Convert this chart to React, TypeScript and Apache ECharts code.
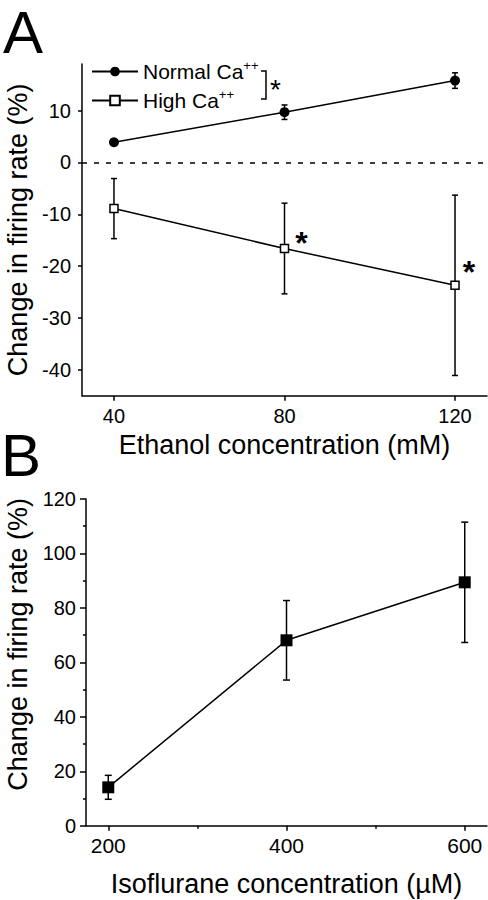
import React, { useEffect, useRef } from "react";
import * as echarts from "echarts";

// ---------- Data ----------
const ethanolConc = [40, 80, 120];
const normalMean = [3.9, 9.7, 15.8];
const normalErr = [0.5, 1.4, 1.5];
const highMean = [-8.9, -16.6, -23.7];
const highErr = [5.8, 8.75, 17.4];
const highSig = [false, true, true];

const isoConc = [200, 400, 600];
const isoMean = [14.1, 68.1, 89.4];
const isoErr = [4.4, 14.6, 22.1];

const topYTicks = [-40, -30, -20, -10, 0, 10];
const topXTicks = [40, 80, 120];
const botXTicks = [200, 400, 600];
const botXMinor = [300, 500];

const FONT = "'Liberation Sans', Arial, Helvetica, sans-serif";

function errRender(half: number) {
  return (params: any, api: any) => {
    const x = api.value(0);
    const y = api.value(1);
    const e = api.value(2);
    const t = api.coord([x, y + e]);
    const b = api.coord([x, y - e]);
    const st = { stroke: "#000", lineWidth: 1.5 };
    return {
      type: "group",
      children: [
        { type: "line", shape: { x1: t[0], y1: t[1], x2: b[0], y2: b[1] }, style: st },
        { type: "line", shape: { x1: t[0] - half, y1: t[1], x2: t[0] + half, y2: t[1] }, style: st },
        { type: "line", shape: { x1: b[0] - half, y1: b[1], x2: b[0] + half, y2: b[1] }, style: st },
      ],
    };
  };
}

export default function App() {
  const ref = useRef<HTMLDivElement>(null);
  useEffect(() => {
    if (!ref.current) return;
    const chart = echarts.init(ref.current, null, { renderer: "svg" });
    const axisLine = { show: true, onZero: false, lineStyle: { color: "#000", width: 1.5 } };
    const labelStyle = { color: "#000", fontSize: 20, fontFamily: FONT };
    const nameStyle = { color: "#000", fontSize: 27, fontFamily: FONT };

    const sigLabels = [
      { distance: 6, offset: [0, -6] },
      { distance: 6, offset: [0, -6] },
      { distance: 3, offset: [0, -13] },
    ];

    const option: any = {
      animation: false,
      backgroundColor: "#fff",
      textStyle: { fontFamily: FONT },
      grid: [
        { left: 82, top: 64, width: 405, height: 331.7, outerBoundsMode: "none" },
        { left: 86, top: 499, width: 401, height: 326.7, outerBoundsMode: "none" },
      ],
      legend: {
        orient: "vertical",
        left: 91,
        top: 59,
        padding: 0,
        itemWidth: 46,
        itemHeight: 12,
        itemGap: 6,
        data: ["Normal Ca++", "High Ca++"],
        formatter: (n: string) => `{b|${n.replace("++", "")}}{s|++}`,
        textStyle: {
          color: "#000",
          fontFamily: FONT,
          rich: {
            b: { fontSize: 21, fontFamily: FONT, color: "#000", lineHeight: 22 },
            s: { fontSize: 13, fontFamily: FONT, color: "#000", padding: [0, 0, 12, 0] },
          },
        },
      },
      xAxis: [
        {
          type: "value",
          gridIndex: 0,
          min: 32.5,
          max: 127.5,
          name: "Ethanol concentration (mM)",
          nameLocation: "middle",
          nameGap: 36,
          nameTextStyle: nameStyle,
          axisLine,
          axisTick: { show: true, length: 5, customValues: topXTicks, lineStyle: { color: "#000", width: 1.5 } },
          axisLabel: { ...labelStyle, margin: 10, customValues: topXTicks },
          splitLine: { show: false },
        },
        {
          type: "value",
          gridIndex: 1,
          min: 175,
          max: 625,
          position: "bottom",
          name: "Isoflurane concentration (µM)",
          nameLocation: "middle",
          nameGap: 45,
          nameTextStyle: nameStyle,
          axisLine,
          axisTick: { show: true, length: 5, customValues: botXTicks, lineStyle: { color: "#000", width: 1.5 } },
          axisLabel: { ...labelStyle, fontSize: 21, margin: 9, customValues: botXTicks },
          splitLine: { show: false },
        },
        {
          type: "value",
          gridIndex: 1,
          min: 175,
          max: 625,
          position: "bottom",
          axisLine: { show: false, onZero: false },
          axisTick: { show: true, length: 3, customValues: botXMinor, lineStyle: { color: "#000", width: 1.5 } },
          axisLabel: { show: false, customValues: botXMinor },
          splitLine: { show: false },
        },
      ],
      yAxis: [
        {
          type: "value",
          gridIndex: 0,
          min: -45,
          max: 19,
          name: "Change in firing rate (%)",
          nameLocation: "middle",
          nameGap: 45,
          nameTextStyle: nameStyle,
          axisLine,
          axisTick: { show: true, length: 4, customValues: topYTicks, lineStyle: { color: "#000", width: 1.5 } },
          axisLabel: { ...labelStyle, margin: 11, customValues: topYTicks },
          splitLine: { show: false },
        },
        {
          type: "value",
          gridIndex: 1,
          min: 0,
          max: 120,
          interval: 20,
          name: "Change in firing rate (%)",
          nameLocation: "middle",
          nameGap: 48,
          nameTextStyle: { ...nameStyle, padding: [0, 0, 0, 36] },
          axisLine,
          axisTick: { show: true, length: 6, lineStyle: { color: "#000", width: 1.5 } },
          minorTick: { show: true, splitNumber: 2, length: 3, lineStyle: { color: "#000", width: 1.5 } },
          axisLabel: { ...labelStyle, margin: 10 },
          splitLine: { show: false },
        },
      ],
      series: [
        {
          type: "custom",
          xAxisIndex: 0,
          yAxisIndex: 0,
          z: 1,
          renderItem: errRender(3),
          data: ethanolConc.map((x, i) => [x, normalMean[i], normalErr[i]]),
          encode: { x: 0, y: 1 },
        },
        {
          type: "custom",
          xAxisIndex: 0,
          yAxisIndex: 0,
          z: 1,
          renderItem: errRender(3),
          data: ethanolConc.map((x, i) => [x, highMean[i], highErr[i]]),
          encode: { x: 0, y: 1 },
        },
        {
          type: "custom",
          xAxisIndex: 1,
          yAxisIndex: 1,
          z: 1,
          renderItem: errRender(3.5),
          data: isoConc.map((x, i) => [x, isoMean[i], isoErr[i]]),
          encode: { x: 0, y: 1 },
        },
        {
          name: "Normal Ca++",
          type: "line",
          xAxisIndex: 0,
          yAxisIndex: 0,
          z: 3,
          symbol: "circle",
          symbolSize: 10,
          itemStyle: { color: "#000" },
          lineStyle: { color: "#000", width: 1.5 },
          data: ethanolConc.map((x, i) => [x, normalMean[i]]),
        },
        {
          name: "High Ca++",
          type: "line",
          xAxisIndex: 0,
          yAxisIndex: 0,
          z: 3,
          symbol: "rect",
          symbolSize: 8,
          itemStyle: { color: "#fff", borderColor: "#000", borderWidth: 1.5 },
          lineStyle: { color: "#000", width: 1.5 },
          data: ethanolConc.map((x, i) => ({
            value: [x, highMean[i]],
            label: {
              show: highSig[i],
              position: "right",
              formatter: "*",
              distance: sigLabels[i].distance,
              offset: sigLabels[i].offset,
              fontSize: 32,
              fontWeight: "bold",
              color: "#000",
              fontFamily: FONT,
            },
          })),
          markLine: {
            silent: true,
            symbol: "none",
            label: { show: false },
            lineStyle: { color: "#000", width: 1.5, type: [5, 7] },
            data: [{ yAxis: 0 }],
          },
        },
        {
          name: "Isoflurane",
          type: "line",
          xAxisIndex: 1,
          yAxisIndex: 1,
          z: 3,
          symbol: "rect",
          symbolSize: 12,
          itemStyle: { color: "#000" },
          lineStyle: { color: "#000", width: 1.5 },
          data: isoConc.map((x, i) => [x, isoMean[i]]),
        },
      ],
      graphic: [
        {
          type: "text",
          left: 3,
          top: 2,
          style: { text: "A", fontSize: 60, fontFamily: FONT, fill: "#000" },
        },
        {
          type: "text",
          left: 1,
          top: 425,
          style: { text: "B", fontSize: 60, fontFamily: FONT, fill: "#000" },
        },
        {
          type: "polyline",
          shape: { points: [[261, 71], [266, 71], [266, 99], [261, 99]] },
          style: { stroke: "#000", lineWidth: 1.5, fill: "none" },
        },
        {
          type: "text",
          x: 270,
          y: 89,
          style: { text: "*", fontSize: 28, fontFamily: FONT, fill: "#000", verticalAlign: "middle" },
        },
      ],
    };
    chart.setOption(option);
    return () => chart.dispose();
  }, []);
  return (
    <div
      ref={ref}
      style={{ position: "absolute", left: 0, top: 0, width: 488, height: 900, background: "#fff" }}
    />
  );
}
